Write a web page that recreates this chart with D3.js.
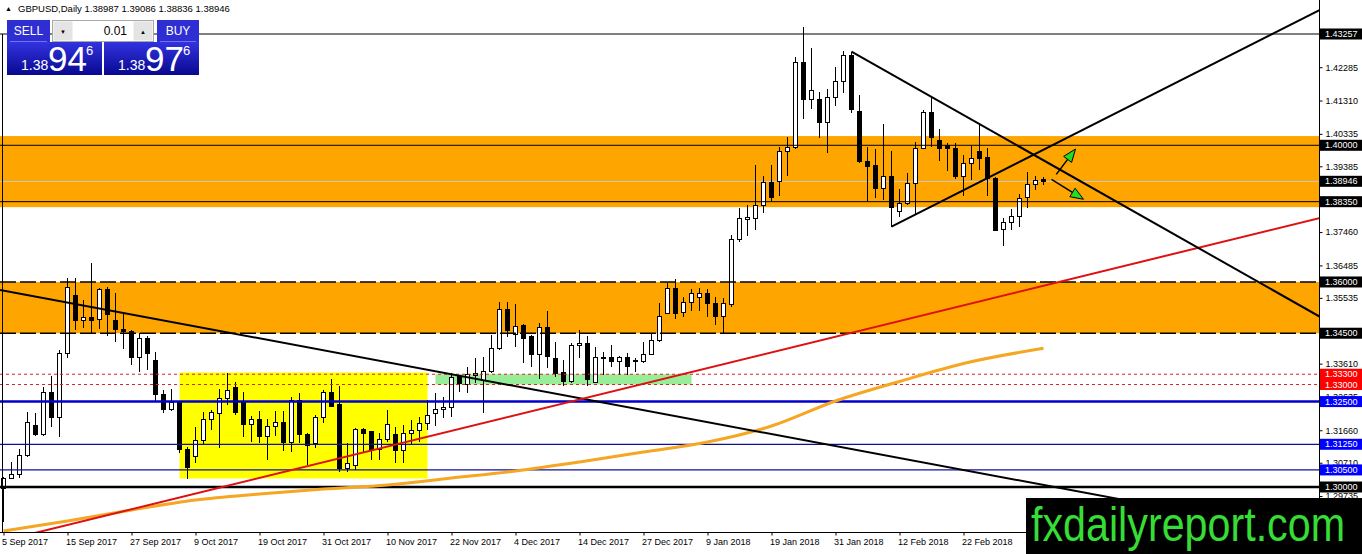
<!DOCTYPE html>
<html>
<head>
<meta charset="utf-8">
<script src="https://cdnjs.cloudflare.com/ajax/libs/d3/7.8.5/d3.min.js"></script>
<style>
body { margin: 0; background: #fff; overflow: hidden; }
text { font-family: "Liberation Sans", Arial, sans-serif; }
</style>
</head>
<body>
<div id="chart"></div>
<script>
// GBPUSD Daily - candles with drawn levels, zones and trend lines

var svgWidth = 1362, svgHeight = 554;
var plotRight = 1319, plotBottom = 532;

// ---- data ----
var symbol = "GBPUSD,Daily";
var dateLabels = ["5 Sep 2017", "15 Sep 2017", "27 Sep 2017", "9 Oct 2017", "19 Oct 2017",
  "31 Oct 2017", "10 Nov 2017", "22 Nov 2017", "4 Dec 2017", "14 Dec 2017", "27 Dec 2017",
  "9 Jan 2018", "19 Jan 2018", "31 Jan 2018", "12 Feb 2018", "22 Feb 2018"];
var labelEvery = 8;

var opens = [1.2997,1.3026,1.3038,1.3091,1.3179,1.3155,1.3278,1.3202,1.3392,1.3559,
  1.3486,1.3495,1.3489,1.3577,1.3486,1.3462,1.3454,1.3380,1.3436,1.3369,
  1.3272,1.3228,1.3246,1.3111,1.3088,1.3135,1.3199,1.3214,1.3258,1.3290,
  1.3246,1.3184,1.3199,1.3149,1.3176,1.3190,1.3129,1.3252,1.3155,1.3126,
  1.3202,1.3278,1.3240,1.3053,1.3064,1.3167,1.3161,1.3111,1.3140,1.3155,
  1.3108,1.3158,1.3164,1.3187,1.3214,1.3228,1.3234,1.3322,1.3301,1.3325,
  1.3313,1.3337,1.3404,1.3518,1.3445,1.3474,1.3439,1.3389,1.3468,1.3375,
  1.3334,1.3310,1.3413,1.3421,1.3307,1.3380,1.3380,1.3366,1.3380,1.3366,
  1.3366,1.3389,1.3430,1.3509,1.3582,1.3512,1.3541,1.3556,1.3565,1.3536,
  1.3500,1.3533,1.3723,1.3784,1.3787,1.3825,1.3890,1.3893,1.3983,1.3995,
  1.4241,1.4135,1.4135,1.4068,1.4141,1.4188,1.4264,1.4100,1.3954,1.3942,
  1.3875,1.3910,1.3805,1.3831,1.3887,1.3992,1.4095,1.4013,1.3998,1.3992,
  1.3910,1.3948,1.3983,1.3963,1.3904,1.3755,1.3773,1.3793,1.3846,1.3884,
  1.38987];
var highs = [1.3029,1.3073,1.3111,1.3219,1.3217,1.3293,1.3325,1.3401,1.3612,1.3612,
  1.3547,1.3656,1.3582,1.3585,1.3568,1.3506,1.3459,1.3451,1.3442,1.3395,
  1.3284,1.3287,1.3250,1.3117,1.3176,1.3219,1.3225,1.3287,1.3334,1.3307,
  1.3278,1.3208,1.3222,1.3199,1.3222,1.3222,1.3263,1.3275,1.3158,1.3211,
  1.3284,1.3316,1.3296,1.3129,1.3173,1.3173,1.3164,1.3158,1.3225,1.3176,
  1.3181,1.3196,1.3205,1.3255,1.3275,1.3263,1.3334,1.3328,1.3351,1.3378,
  1.3380,1.3445,1.3541,1.3541,1.3536,1.3478,1.3445,1.3480,1.3515,1.3424,
  1.3372,1.3421,1.3459,1.3442,1.3410,1.3395,1.3416,1.3383,1.3392,1.3378,
  1.3424,1.3451,1.3538,1.3597,1.3609,1.3556,1.3579,1.3582,1.3579,1.3556,
  1.3553,1.3737,1.3817,1.3825,1.3942,1.3910,1.3942,1.3995,1.4024,1.4258,
  1.4346,1.4285,1.4156,1.4165,1.4229,1.4276,1.4273,1.4147,1.3995,1.3989,
  1.4062,1.3983,1.3872,1.3919,1.4010,1.4103,1.4141,1.4048,1.4007,1.4007,
  1.3972,1.3998,1.4065,1.3992,1.3906,1.3787,1.3814,1.3857,1.3922,1.3910,
  1.39086];
var lows = [1.2898,1.3023,1.3026,1.3088,1.3149,1.3149,1.3176,1.3146,1.3378,1.3459,
  1.3465,1.3451,1.3462,1.3442,1.3424,1.3404,1.3357,1.3337,1.3342,1.3249,
  1.3217,1.3222,1.3100,1.3023,1.3070,1.3123,1.3167,1.3114,1.3240,1.3211,
  1.3146,1.3132,1.3129,1.3079,1.3149,1.3105,1.3102,1.3129,1.3064,1.3114,
  1.3187,1.3234,1.3044,1.3044,1.3050,1.3102,1.3079,1.3079,1.3132,1.3070,
  1.3070,1.3123,1.3132,1.3167,1.3179,1.3202,1.3205,1.3278,1.3275,1.3304,
  1.3217,1.3334,1.3401,1.3439,1.3410,1.3363,1.3351,1.3316,1.3348,1.3322,
  1.3296,1.3304,1.3378,1.3296,1.3304,1.3328,1.3351,1.3328,1.3328,1.3337,
  1.3363,1.3386,1.3424,1.3505,1.3492,1.3498,1.3515,1.3515,1.3498,1.3474,
  1.3451,1.3527,1.3717,1.3735,1.3752,1.3802,1.3834,1.3852,1.3910,1.3990,
  1.4077,1.4106,1.4021,1.3977,1.4115,1.4153,1.4095,1.3948,1.3834,1.3846,
  1.3840,1.3761,1.3790,1.3825,1.3796,1.3989,1.3995,1.3954,1.3925,1.3901,
  1.3852,1.3898,1.3928,1.3852,1.3749,1.3705,1.3752,1.3761,1.3817,1.3869,
  1.38836];
var closes = [1.3026,1.3038,1.3091,1.3190,1.3155,1.3278,1.3202,1.3392,1.3585,1.3486,
  1.3495,1.3486,1.3577,1.3506,1.3462,1.3454,1.3380,1.3436,1.3392,1.3272,
  1.3228,1.3246,1.3111,1.3056,1.3135,1.3199,1.3217,1.3258,1.3281,1.3219,
  1.3184,1.3199,1.3149,1.3176,1.3190,1.3129,1.3252,1.3155,1.3120,1.3202,
  1.3278,1.3237,1.3053,1.3070,1.3167,1.3158,1.3111,1.3140,1.3184,1.3108,
  1.3158,1.3164,1.3187,1.3208,1.3228,1.3234,1.3319,1.3304,1.3328,1.3331,
  1.3337,1.3404,1.3518,1.3459,1.3471,1.3436,1.3389,1.3468,1.3383,1.3331,
  1.3310,1.3413,1.3421,1.3316,1.3378,1.3375,1.3366,1.3380,1.3354,1.3369,
  1.3389,1.3430,1.3500,1.3582,1.3509,1.3541,1.3565,1.3565,1.3536,1.3500,
  1.3536,1.3723,1.3787,1.3790,1.3825,1.3890,1.3846,1.3983,1.3995,1.4241,
  1.4135,1.4159,1.4068,1.4141,1.4188,1.4264,1.4106,1.3954,1.3939,1.3875,
  1.3910,1.3819,1.3831,1.3887,1.3992,1.4095,1.4024,1.3992,1.3992,1.3910,
  1.3948,1.3960,1.3960,1.3904,1.3752,1.3773,1.3793,1.3843,1.3884,1.3896,
  1.38946];

// moving average, read at every 8th bar and at the last bar
var maBars = [0, 8, 16, 24, 32, 40, 48, 56, 64, 72, 80, 88, 96, 104, 112, 120, 130];
var maValues = [1.28712, 1.29005, 1.29327, 1.29620, 1.29795, 1.29941, 1.30059, 1.30263,
  1.30468, 1.30732, 1.31024, 1.31317, 1.31785, 1.32517, 1.33088, 1.33614, 1.34059];

var bidPrice = 1.38946, askPrice = 1.38976, lotSize = "0.01";

var priceTicks = [1.42285, 1.41310, 1.40335, 1.39385, 1.37460, 1.36485, 1.35535,
  1.33610, 1.32635, 1.31660, 1.30710, 1.29735];
var blackLevels = [1.43257, 1.40000, 1.38350];
var dashedLevels = [1.36000, 1.34500];
var redLevels = [1.33300, 1.33000];
var blueThickLevels = [1.32500];
var blueThinLevels = [1.31250, 1.30500];
var floorLevels = [1.30000];

// zones: [fromBar, toBar, topPrice, bottomPrice] (null bars = full width)
var orangeZones = [[null, null, 1.4027, 1.3819], [null, null, 1.3600, 1.3450]];
var yellowZone = [22, 53, 1.3335, 1.3025];
var greenZone = [54, 86, 1.3330, 1.3300];

// trend lines: two anchors [bar, price]
var downTrend = [[0, 1.3575], [130, 1.3006]];
var redTrend = [[0, 1.2843], [130, 1.3589]];
var triangleTop = [[106, 1.4274], [130, 1.3956]];
var triangleBottom = [[111, 1.3762], [130, 1.3987]];
// arrows: [bar, price] start and tip
var arrowUp = [[131.6, 1.3915], [134.0, 1.3989]];
var arrowDown = [[131.0, 1.3900], [135.0, 1.3842]];

// ---- svg ----
var svg = d3.select("#chart").append("svg")
    .attr("width", svgWidth)
    .attr("height", svgHeight);

var x = d3.scaleLinear().domain([0, 130]).range([3.5, 1043.5]);
var y = d3.scaleLinear().domain([1.30, 1.43257]).range([487, 34]);

var defs = svg.append("defs");
defs.append("clipPath").attr("id", "plotClip")
  .append("rect").attr("x", 0).attr("y", 0).attr("width", plotRight).attr("height", plotBottom);

var grad = defs.append("linearGradient").attr("id", "priceGrad")
    .attr("x1", 0).attr("y1", 0).attr("x2", 0).attr("y2", 1);
grad.append("stop").attr("offset", "0%").attr("stop-color", "#3333e0");
grad.append("stop").attr("offset", "100%").attr("stop-color", "#080890");

var plot = svg.append("g").attr("clip-path", "url(#plotClip)");

// zones
function zoneX(b, edge) { return b === null ? (edge ? plotRight : 0) : x(b); }
plot.selectAll("rect.orange").data(orangeZones).enter().append("rect")
    .attr("x", d => zoneX(d[0], 0))
    .attr("width", d => zoneX(d[1], 1) - zoneX(d[0], 0))
    .attr("y", d => y(d[2]))
    .attr("height", d => y(d[3]) - y(d[2]))
    .attr("fill", "#ffa500");

plot.selectAll("rect.zone").data([yellowZone, greenZone]).enter().append("rect")
    .attr("x", d => x(d[0]))
    .attr("width", d => x(d[1]) - x(d[0]))
    .attr("y", d => y(d[2]))
    .attr("height", d => y(d[3]) - y(d[2]))
    .attr("fill", (d, i) => i === 0 ? "#ffff00" : "#98ee98");

// bid line
plot.append("line")
    .attr("x1", 0).attr("x2", plotRight)
    .attr("y1", Math.round(y(bidPrice)) + 0.5).attr("y2", Math.round(y(bidPrice)) + 0.5)
    .attr("stroke", "#c8c8c8");

// candles
var bars = d3.range(opens.length).map(i => ({i: i, o: opens[i], h: highs[i], l: lows[i], c: closes[i]}));
var candles = plot.append("g").attr("shape-rendering", "crispEdges");
candles.selectAll("line").data(bars).enter().append("line")
    .attr("x1", d => x(d.i)).attr("x2", d => x(d.i))
    .attr("y1", d => y(d.h)).attr("y2", d => y(d.l))
    .attr("stroke", "#000");
candles.selectAll("rect").data(bars).enter().append("rect")
    .attr("x", d => x(d.i) - 2)
    .attr("width", 4)
    .attr("y", d => y(Math.max(d.o, d.c)))
    .attr("height", d => Math.max(1, Math.abs(y(d.o) - y(d.c))))
    .attr("fill", d => d.c >= d.o ? "#fff" : "#000")
    .attr("stroke", "#000");

// horizontal levels
function levels(values, color, width, dash) {
  plot.append("g").selectAll("line").data(values).enter().append("line")
      .attr("x1", 0).attr("x2", plotRight)
      .attr("y1", d => y(d)).attr("y2", d => y(d))
      .attr("stroke", color)
      .attr("stroke-width", width)
      .attr("stroke-dasharray", dash);
}
levels(blackLevels, "#000", 1, null);
levels(dashedLevels, "#000", 1.5, "16,4");
levels(redLevels, "#e02020", 1, "3,3");
levels(blueThickLevels, "#0000cc", 2.5, null);
levels(blueThinLevels, "#10109a", 1.2, null);
levels(floorLevels, "#000", 2.5, null);

// moving average
var maLine = d3.line()
    .x(d => x(d[0]))
    .y(d => y(d[1]))
    .curve(d3.curveMonotoneX);
plot.append("path")
    .datum(maBars.map((b, i) => [b, maValues[i]]))
    .attr("d", maLine)
    .attr("fill", "none")
    .attr("stroke", "#f5a623")
    .attr("stroke-width", 3);

// trend lines, extended across the plot (rays start at their first anchor)
function trend(pts, color, ray) {
  var x1 = x(pts[0][0]), y1 = y(pts[0][1]), x2 = x(pts[1][0]), y2 = y(pts[1][1]);
  var k = (y2 - y1) / (x2 - x1);
  var xs = ray ? x1 : 0, xe = plotRight + 5;
  plot.append("line")
      .attr("x1", xs).attr("y1", y1 + k * (xs - x1))
      .attr("x2", xe).attr("y2", y1 + k * (xe - x1))
      .attr("stroke", color)
      .attr("stroke-width", 2);
}
trend(downTrend, "#000", false);
trend(redTrend, "#dd1111", false);
trend(triangleTop, "#000", true);
trend(triangleBottom, "#000", true);

// arrows
function arrow(pts) {
  var x1 = x(pts[0][0]), y1 = y(pts[0][1]), x2 = x(pts[1][0]), y2 = y(pts[1][1]);
  var a = Math.atan2(y2 - y1, x2 - x1), len = 13, half = 5;
  var bx = x2 - len * Math.cos(a), by = y2 - len * Math.sin(a);
  plot.append("line").attr("x1", x1).attr("y1", y1).attr("x2", bx).attr("y2", by)
      .attr("stroke", "#000").attr("stroke-width", 1.5);
  var head = [[x2, y2],
    [bx + half * Math.sin(a), by - half * Math.cos(a)],
    [bx - half * Math.sin(a), by + half * Math.cos(a)]];
  plot.append("polygon").attr("points", head.map(p => p.join(",")).join(" "))
      .attr("fill", "#22dd22").attr("stroke", "#000").attr("stroke-width", 1);
}
arrow(arrowUp);
arrow(arrowDown);

// frame lines
svg.append("line").attr("x1", 2.5).attr("x2", 2.5).attr("y1", y(blackLevels[0])).attr("y2", plotBottom)
    .attr("stroke", "#000");
svg.append("line").attr("x1", plotRight + 0.5).attr("x2", plotRight + 0.5).attr("y1", 0).attr("y2", plotBottom)
    .attr("stroke", "#000");
svg.append("line").attr("x1", 0).attr("x2", plotRight + 1).attr("y1", plotBottom + 0.5).attr("y2", plotBottom + 0.5)
    .attr("stroke", "#000");

// price axis
var fmt = d3.format(".5f");
var yAxis = svg.append("g")
    .attr("transform", "translate(" + (plotRight + 0.5) + ",0)")
    .call(d3.axisRight(y).tickValues(priceTicks).tickFormat(fmt).tickSize(3).tickSizeOuter(0));
yAxis.select(".domain").remove();
yAxis.selectAll("text").attr("font-family", "Liberation Sans, Arial, sans-serif")
    .attr("font-size", 9).attr("fill", "#000");

// time axis
var xAxis = svg.append("g")
    .attr("transform", "translate(0," + (plotBottom + 0.5) + ")")
    .call(d3.axisBottom(x)
        .tickValues(dateLabels.map((d, i) => i * labelEvery))
        .tickFormat(d => dateLabels[d / labelEvery])
        .tickSize(3).tickSizeOuter(0));
xAxis.select(".domain").remove();
xAxis.selectAll("text").attr("font-family", "Liberation Sans, Arial, sans-serif")
    .attr("font-size", 9).attr("fill", "#000")
    .attr("text-anchor", "start").attr("dx", -2);

// highlighted level labels
var tags = [];
blackLevels.concat(dashedLevels, floorLevels, [bidPrice]).forEach(v => tags.push([v, "#000"]));
redLevels.forEach(v => tags.push([v, "#ff0000"]));
blueThickLevels.concat(blueThinLevels).forEach(v => tags.push([v, "#0000ff"]));
var tagG = svg.append("g").selectAll("g").data(tags).enter().append("g")
    .attr("transform", d => "translate(" + (plotRight + 1) + "," + y(d[0]) + ")");
tagG.append("rect").attr("x", 0).attr("y", -5.5).attr("width", svgWidth - plotRight).attr("height", 11)
    .attr("fill", d => d[1]);
tagG.append("text").attr("x", 5).attr("dy", "0.35em").attr("font-size", 9).attr("fill", "#fff")
    .text(d => fmt(d[0]));

// header line
var last = opens.length - 1;
svg.append("text").attr("x", 5).attr("y", 11).attr("font-size", 7).text("\u25B2");
svg.append("text").attr("x", 18).attr("y", 12).attr("font-size", 9.5).attr("fill", "#000")
    .text(symbol + "  " + [opens[last], highs[last], lows[last], closes[last]].map(fmt).join(" "));

// one-click trading panel
var panel = svg.append("g");
panel.append("rect").attr("x", 7).attr("y", 20).attr("width", 43).attr("height", 22).attr("fill", "#2e2ed2");
panel.append("rect").attr("x", 157).attr("y", 20).attr("width", 42).attr("height", 22).attr("fill", "#2e2ed2");
panel.append("line").attr("x1", 10).attr("x2", 47).attr("y1", 41.5).attr("y2", 41.5).attr("stroke", "#7070f0");
panel.append("line").attr("x1", 160).attr("x2", 196).attr("y1", 41.5).attr("y2", 41.5).attr("stroke", "#7070f0");
panel.append("text").attr("x", 28.5).attr("y", 35).attr("text-anchor", "middle").attr("font-size", 12)
    .attr("fill", "#fff").text("SELL");
panel.append("text").attr("x", 178).attr("y", 35).attr("text-anchor", "middle").attr("font-size", 12)
    .attr("fill", "#fff").text("BUY");
panel.append("rect").attr("x", 52.5).attr("y", 20.5).attr("width", 101).attr("height", 21)
    .attr("fill", "#fff").attr("stroke", "#a8a8a8");
panel.append("rect").attr("x", 53.5).attr("y", 21.5).attr("width", 19).attr("height", 19).attr("fill", "#e4e4e4");
panel.append("rect").attr("x", 133.5).attr("y", 21.5).attr("width", 19).attr("height", 19).attr("fill", "#e4e4e4");
panel.append("text").attr("x", 63).attr("y", 34).attr("text-anchor", "middle").attr("font-size", 6).text("\u25BC");
panel.append("text").attr("x", 143).attr("y", 34).attr("text-anchor", "middle").attr("font-size", 6).text("\u25B2");
panel.append("text").attr("x", 127).attr("y", 35).attr("text-anchor", "end").attr("font-size", 12)
    .attr("fill", "#000").text(lotSize);

function priceBox(px, price) {
  var s = price.toFixed(5);
  panel.append("rect").attr("x", px).attr("y", 42).attr("width", 95).attr("height", 33).attr("fill", "url(#priceGrad)");
  panel.append("text").attr("x", px + 14).attr("y", 70).attr("font-size", 14).attr("fill", "#fff").text(s.slice(0, 4));
  panel.append("text").attr("x", px + 41).attr("y", 71).attr("font-size", 35).attr("fill", "#fff").text(s.slice(4, 6));
  panel.append("text").attr("x", px + 79).attr("y", 55).attr("font-size", 13).attr("fill", "#fff").text(s.slice(6));
}
priceBox(7, bidPrice);
priceBox(104, askPrice);

// watermark
svg.append("rect").attr("x", 1026).attr("y", 498).attr("width", svgWidth - 1026).attr("height", svgHeight - 498)
    .attr("fill", "#000");
svg.append("text").attr("x", 1031).attr("y", 541).attr("font-size", 49)
    .attr("textLength", 314).attr("lengthAdjust", "spacingAndGlyphs")
    .attr("fill", "#35dd35").text("fxdailyreport.com");
</script>
</body>
</html>
